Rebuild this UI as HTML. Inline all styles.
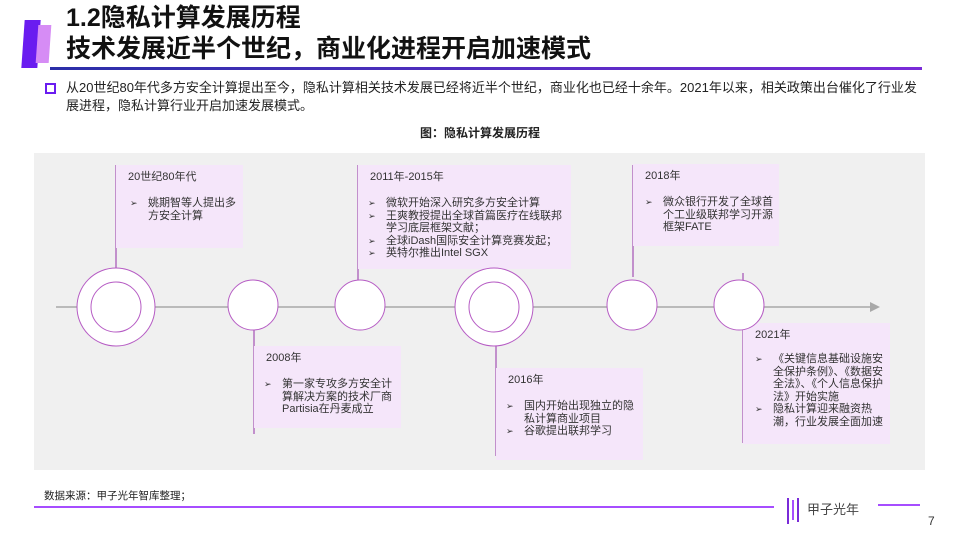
<!DOCTYPE html>
<html><head><meta charset="utf-8"><style>
body{margin:0;width:960px;height:540px;position:relative;background:#fff;font-family:"Liberation Sans","Noto Sans CJK SC",sans-serif;overflow:hidden;color:#222}
.a{position:absolute}
.box{position:absolute;background:#f5e6fa;font-size:11px;line-height:12.5px;color:#333}
.box .y{position:absolute;left:12px;top:6px;font-size:11px}
.box ul{position:absolute;margin:0;padding:0;list-style:none}
.box li{position:relative;padding-left:18px}
.box li:before{content:"➢";position:absolute;left:0;font-size:9px}
.vl{position:absolute;width:1.5px;background:#c290cc}
</style></head><body>
<div class="a" style="left:23px;top:20px;width:16px;height:48px;background:#6a1cf0;transform:skewX(-4deg)"></div>
<div class="a" style="left:37px;top:25px;width:13px;height:38px;background:#d68cf5;transform:skewX(-4deg)"></div>
<div class="a" style="left:66px;top:3px;font-size:25px;font-weight:bold;line-height:31px;color:#111">1.2隐私计算发展历程<br>技术发展近半个世纪，商业化进程开启加速模式</div>
<div class="a" style="left:50px;top:67px;width:872px;height:3px;background:linear-gradient(90deg,#2b2fa8,#7a2bd8)"></div>
<div class="a" style="left:45px;top:83px;width:7px;height:7px;border:2px solid #6a1cf0"></div>
<div class="a" style="left:66px;top:79px;width:860px;font-size:13px;line-height:18px;color:#222">从20世纪80年代多方安全计算提出至今，隐私计算相关技术发展已经将近半个世纪，商业化也已经十余年。2021年以来，相关政策出台催化了行业发展进程，隐私计算行业开启加速发展模式。</div>
<div class="a" style="left:0;width:960px;top:124px;text-align:center;font-size:12px;font-weight:bold">图：隐私计算发展历程</div>
<div class="a" style="left:34px;top:153px;width:891px;height:317px;background:#f0f0f0"></div>
<svg class="a" style="left:0;top:0" width="960" height="540">
<line x1="56" y1="307" x2="872" y2="307" stroke="#a8a8a8" stroke-width="1.5"/>
<polygon points="870,302 880,307 870,312" fill="#a8a8a8"/>
</svg>
<div class="vl" style="left:115px;top:165px;height:104px"></div>
<div class="box" style="left:116px;top:165px;width:127px;height:83px"><div class="y">20世纪80年代</div><ul style="left:14px;top:32px;width:110px"><li>姚期智等人提出多方安全计算</li></ul></div>
<div class="vl" style="left:357px;top:165px;height:117px"></div>
<div class="box" style="left:358px;top:165px;width:213px;height:104px"><div class="y">2011年-2015年</div><ul style="left:10px;top:32px;width:200px"><li>微软开始深入研究多方安全计算</li><li>王爽教授提出全球首篇医疗在线联邦学习底层框架文献；</li><li>全球iDash国际安全计算竞赛发起；</li><li>英特尔推出Intel SGX</li></ul></div>
<div class="vl" style="left:632px;top:165px;height:112px"></div>
<div class="box" style="left:633px;top:164px;width:146px;height:82px"><div class="y">2018年</div><ul style="left:12px;top:32px;width:130px"><li>微众银行开发了全球首个工业级联邦学习开源框架FATE</li></ul></div>
<div class="vl" style="left:253px;top:330px;height:104px"></div>
<div class="box" style="left:254px;top:346px;width:147px;height:82px"><div class="y">2008年</div><ul style="left:10px;top:32px;width:135px"><li>第一家专攻多方安全计算解决方案的技术厂商Partisia在丹麦成立</li></ul></div>
<div class="vl" style="left:495px;top:346px;height:110px"></div>
<div class="box" style="left:496px;top:368px;width:147px;height:92px"><div class="y">2016年</div><ul style="left:10px;top:32px;width:135px"><li>国内开始出现独立的隐私计算商业项目</li><li>谷歌提出联邦学习</li></ul></div>
<div class="vl" style="left:742px;top:273px;height:170px"></div>
<div class="box" style="left:743px;top:323px;width:147px;height:121px"><div class="y">2021年</div><ul style="left:12px;top:30px;width:134px"><li>《关键信息基础设施安全保护条例》、《数据安全法》、《个人信息保护法》开始实施</li><li>隐私计算迎来融资热潮，行业发展全面加速</li></ul></div>
<svg class="a" style="left:0;top:0" width="960" height="540">
<g fill="#fff" stroke="#b65cc4" stroke-width="1">
<circle cx="116" cy="307" r="39"/><circle cx="116" cy="307" r="25"/>
<circle cx="253" cy="305" r="25"/><circle cx="360" cy="305" r="25"/>
<circle cx="494" cy="307" r="39"/><circle cx="494" cy="307" r="25"/>
<circle cx="632" cy="305" r="25"/><circle cx="739" cy="305" r="25"/>
</g></svg>
<div class="a" style="left:44px;top:488px;font-size:10.5px">数据来源：甲子光年智库整理；</div>
<div class="a" style="left:34px;top:506px;width:740px;height:2px;background:#a64dff"></div>
<div class="a" style="left:787px;top:498px;width:2px;height:26px;background:#7a2bd8"></div>
<div class="a" style="left:792px;top:500px;width:2px;height:20px;background:#a64dff"></div>
<div class="a" style="left:797px;top:498px;width:2px;height:24px;background:#7a2bd8"></div>
<div class="a" style="left:807px;top:499px;font-size:13px;color:#444">甲子光年</div>
<div class="a" style="left:878px;top:504px;width:42px;height:2px;background:#a64dff"></div>
<div class="a" style="left:928px;top:514px;font-size:12px;color:#333">7</div>
</body></html>
